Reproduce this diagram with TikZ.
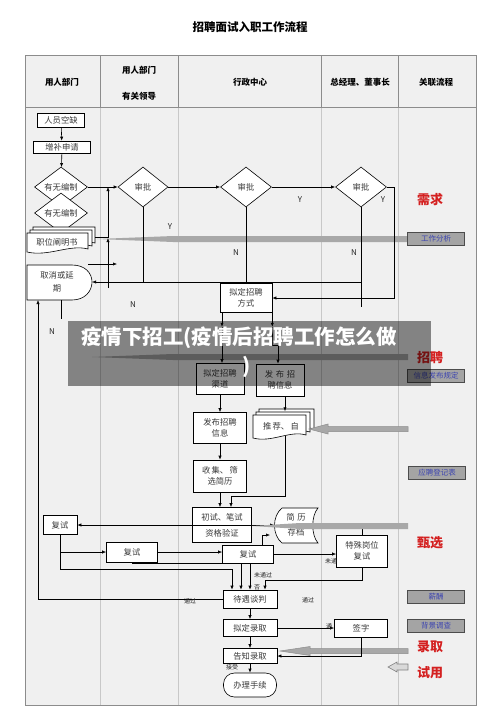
\documentclass[tikz,border=0pt]{standalone}
\usepackage{fontspec}
\setmainfont{Noto Sans CJK SC}
\usetikzlibrary{arrows.meta,calc,shapes.geometric}
\definecolor{bg}{HTML}{F0F0F0}
\definecolor{hdrline}{HTML}{8C8C8C}
\definecolor{laneline}{HTML}{C8C8C8}
\definecolor{txt}{HTML}{3A3A3A}
\definecolor{wedgec}{HTML}{A8A8A8}
\definecolor{refbox}{HTML}{A4A4A4}
\definecolor{reftxt}{HTML}{3C44B0}
\definecolor{redlab}{HTML}{D42020}
\newcommand\docsheet[4]{\draw[sheet] (#1,#2) -- (#3,#2) -- (#3,#4-3) .. controls ({#3-0.3*(#3-#1)},#4-8) and ({#1+0.35*(#3-#1)},#4+5) .. (#1,#4) -- cycle;}
\newcommand\wedgearrow[4]{\fill[wedgec] (#3,#4-3) -- (#2,#4-3) -- (#1,#4) -- (#2,#4+3) -- (#3,#4+3) -- cycle;}
\newcommand\blockarrow[6]{\filldraw[blockst] (#3,#4-#5) -- (#2,#4-#5) -- (#2,#4-#6) -- (#1,#4) -- (#2,#4+#6) -- (#2,#4+#5) -- (#3,#4+#5) -- cycle;}
\begin{document}
\begin{tikzpicture}[x=1pt,y=-1pt,
 arr/.style={-{Latex[length=4pt,width=3.2pt]}, line width=0.6pt},
 conn/.style={line width=0.6pt},
 box/.style={draw, line width=0.6pt, fill=white, text=txt, font=\fontsize{8.3}{11}\selectfont, align=center, inner sep=0pt},
 dia/.style={diamond, aspect=1.3, draw, line width=0.6pt, fill=white, text=txt, font=\fontsize{8.3}{10}\selectfont, inner sep=0pt},
 lbl/.style={font=\fontsize{8}{10}\selectfont, text=black!85, inner sep=0pt},
 small/.style={font=\fontsize{6}{7}\selectfont, text=black!85, inner sep=0pt},
 hdr/.style={font=\bfseries\fontsize{8.5}{10}\selectfont, inner sep=0pt},
 refb/.style={draw=black!70, line width=0.6pt, fill=refbox, text=reftxt, font=\fontsize{7.5}{9}\selectfont, inner sep=0pt, minimum width=57pt, minimum height=13pt},
 redl/.style={text=redlab, font=\bfseries\fontsize{13}{15}\selectfont, inner sep=0pt},
 sheet/.style={draw, line width=0.6pt, fill=white},
 blockst/.style={fill=wedgec, draw=black!45, line width=0.5pt},
]
\useasboundingbox (0,0) rectangle (500,707);
\fill[white] (0,0) rectangle (500,707);
\node[font=\bfseries\fontsize{11.5}{13}\selectfont, inner sep=0pt] (title) at (250,27) {招聘面试入职工作流程};
% table
\fill[bg] (25,55) rectangle (476,705);
\foreach \xx in {100,178,321,398} {
  \draw[hdrline, line width=0.7pt] (\xx,55) -- (\xx,107);
  \draw[laneline, line width=0.8pt] (\xx,107) -- (\xx,705);
}
\draw[hdrline, line width=0.7pt] (25,107) -- (476,107);
\draw[hdrline, line width=0.8pt] (25,55) rectangle (476,705);
\node[hdr] (h1) at (62,82) {用人部门};
\node[hdr] (h2a) at (139,70) {用人部门};
\node[hdr] (h2b) at (139,96) {有关领导};
\node[hdr] (h3) at (250,82) {行政中心};
\node[hdr] (h4) at (360,82) {总经理、董事长};
\node[hdr] (h5) at (436,82) {关联流程};

% gray wedge arrows (behind)
\wedgearrow{97}{173}{408}{239}
\wedgearrow{92}{173}{408}{357}

% column 1 nodes
\node[box, minimum width=47pt, minimum height=14pt] (n1) at (61,120) {人员空缺};
\node[box, minimum width=57pt, minimum height=12pt] (n2) at (62,147) {增补申请};
\node[dia, minimum width=53pt, minimum height=40pt] (d1) at (61,187) {有无编制};
\node[dia, minimum width=53pt, minimum height=40pt] (d1b) at (61,213) {有无编制};
\docsheet{33}{227}{95}{246}
\docsheet{30}{230}{92}{249}
\docsheet{27}{233}{88}{252}
\node[lbl, text=txt, font=\fontsize{8.3}{10}\selectfont] (zw) at (57,242) {职位阐明书};
\coordinate (zwr) at (95,237);
\draw[sheet] (27,265) -- (72,265) .. controls (85,265) and (92,273) .. (92,282) .. controls (92,291) and (85,300) .. (72,300) -- (27,300) -- cycle;
\node[lbl, text=txt, align=center, font=\fontsize{8.3}{13}\selectfont] (qx) at (57,282) {取消或延\\期};
\coordinate (qxr) at (92,282);
\coordinate (qxb) at (38,300);

% diamonds
\node[dia, minimum width=50pt, minimum height=40pt] (d2) at (143,187) {审批};
\node[dia, minimum width=51pt, minimum height=40pt] (d3) at (246,187) {审批};
\node[dia, minimum width=51pt, minimum height=40pt] (d4) at (361,187) {审批};

% column 3 boxes
\node[box, minimum width=52pt, minimum height=29pt] (fs) at (246,298) {拟定招聘\\方式};
\node[box, minimum width=48pt, minimum height=31pt] (qd) at (220,379) {拟定招聘\\渠道};
\node[box, minimum width=48pt, minimum height=32pt] (fb) at (280,380) {发\,\,布\,\,招\\聘信息};
\node[box, minimum width=53pt, minimum height=31pt] (fp) at (220,428) {发布招聘\\信息};
\docsheet{259}{409}{314}{432}
\docsheet{256}{412}{310}{435}
\docsheet{253}{415}{306}{438}
\node[lbl, text=txt, font=\fontsize{8.3}{10}\selectfont] (tj) at (281,426) {推\,荐、\,自};
\coordinate (tjb) at (285,436);
\node[box, minimum width=53pt, minimum height=32pt] (sj) at (220,476) {收\,集、\,筛\\选简历};
\node[box, minimum width=59pt, minimum height=35pt] (cs) at (222,525) {初试、笔试\\[5pt]资格验证};
\draw[conn] (cs.west) -- (cs.east);
\draw[sheet] (282,508) -- (318,508) .. controls (311,516) and (311,535) .. (318,543) -- (282,543) .. controls (272,535) and (272,516) .. (282,508) -- cycle;
\node[lbl, text=txt, align=center, font=\fontsize{8.3}{15}\selectfont] (jc) at (296,525) {简\,\,历\\存档};
\coordinate (jcl) at (274,525);
\coordinate (jcr) at (312,525);
\node[box, minimum width=34pt, minimum height=19pt] (f1) at (60,525) {复试};
\node[box, minimum width=51pt, minimum height=20pt] (f2) at (132,552) {复试};
\node[box, minimum width=51pt, minimum height=18pt] (f3) at (248,554) {复试};
\node[box, minimum width=51pt, minimum height=32pt] (sp) at (362,551) {特殊岗位\\复试};
\node[box, minimum width=54pt, minimum height=18pt] (dy) at (250,599) {待遇谈判};
\node[box, minimum width=54pt, minimum height=17pt] (nl) at (250,628) {拟定录取};
\node[box, minimum width=53pt, minimum height=18pt] (qz) at (361,628) {签字};
\node[box, minimum width=54pt, minimum height=15pt] (gz) at (250,656) {告知录取};
\node[box, minimum width=53pt, minimum height=24pt, rounded corners=11pt] (bl) at (250,685) {办理手续};

% right column
\node[redl] (rq) at (430,200) {需求};
\node[refb] (gzfx) at (436,239) {工作分析};
\node[redl] (zp) at (430,358) {招聘};
\node[refb] (xxfb) at (436,376) {信息发布规定};
\node[refb] (ypdj) at (437,473) {应聘登记表};
\node[redl] (zx) at (430,543) {甄选};
\node[refb] (xc) at (436,597) {薪酬};
\node[refb] (bjdc) at (436,626) {背景调查};
\node[redl] (lq) at (430,647) {录取};
\node[redl] (sy) at (430,673) {试用};

% connectors top part
\draw[arr] (n1) -- (n2);
\draw[arr] (n2) -- (d1);
\draw[arr] (d1.east) -- (d2.west);
\coordinate (j1) at (108,187);
\draw[arr] (zwr) -| (j1);
\coordinate (j2) at (108,288);
\coordinate (j3) at (108,238);
\draw[arr] (j2) -- (j3);
\draw[arr] (d2.east) -- (d3.west);
\draw[arr] (d3.east) -- (d4.west);
\draw[conn] (d2.south) -- (d2.south |- qxr);
\draw[conn] (d3.south) -- (d3.south |- qxr);
\draw[conn] (d4.south) -- ++(0,100);
\draw[arr] (d4.south |- qxr) -- (qxr);
\draw[arr] (d4.east) -- ++(7,0) |- (fs.east);
\coordinate (s1) at (88,264);
\coordinate (s2) at (117,264);
\draw[arr] (s1) -- (s2);
\draw[conn] (61,300) -- (61,319);
\draw[arr] (dy.west) -| (qxb);

% middle
\draw[arr] (fs.south -| qd.north) ++(2,0) -- ++(0,14);
\draw[arr] ($(fs.south -| qd.north)+(2,14)$) -- ($(qd.north)+(2,0)$);
\draw[arr] (fs.south east) -- ++(0,14);
\draw[arr] ($(fs.south east)+(0,14)$) -- ++(0,18) -| ($(fb.north)+(-2,0)$);
\draw[arr] (qd) -- (fp);
\draw[arr] ($(fb.south)+(5,0)$) -- ++(0,15);
\draw[arr] (fp) -- (sj);
\draw[arr] (sj.south) -- (sj.south |- cs.north);
\draw[arr] (tjb) |- ($(cs.north)+(9,-11)$) -- ($(cs.north)+(9,0)$);
\draw[arr] (cs.west) -- (f1.east);
\draw[arr] (cs.east) -- (jcl);
\draw[arr] ($(f3.north)+(14,0)$) |- ($(jcl)+(-4,10)$);
\draw[arr] (sp.north) |- (jcr);
\draw[arr] (f1.south) |- (f2.west);
\draw[arr] (f1.south) |- ($(dy.north)+(-18,-20)$) -- ($(dy.north)+(-18,0)$);
\draw[arr] (f2.east) -- (f2.east -| f3.west);
\draw[arr] (f2.south) |- ($(dy.north)+(-9,-26)$) -- ($(dy.north)+(-9,0)$);
\draw[arr] (f3.south -| dy.north) -- (dy.north);
\draw[arr] (f3.east) -- (f3.east -| sp.west);
\draw[arr] (sp.south) |- ($(dy.north)+(15,-9)$) -- ($(dy.north)+(15,0)$);
\draw[arr] (dy) -- (nl);
\draw[arr] (nl.east) -- (qz.west);
\draw[arr] (nl) -- (gz);
\draw[arr] (gz) -- (bl);

% gray arrows on top
\wedgearrow{252}{300}{408}{526}
\blockarrow{309}{328}{408}{429}{2.5}{5}
\blockarrow{280}{310}{408}{651}{2.5}{4.5}
\begin{scope}[blockst/.style={fill=black!15, draw=black!50, line width=0.6pt}]
\blockarrow{388}{397}{408}{667}{3}{5}
\end{scope}
\draw[arr] (qz.south) |- (gz.east);

% labels
\node[lbl] (y1) at (170,227) {Y};
\node[lbl] (y2) at (300,200) {Y};
\node[lbl] (y3) at (383,200) {Y};
\node[lbl] (nn1) at (236,253) {N};
\node[lbl] (nn2) at (354,253) {N};
\node[lbl] (nn3) at (133,305) {N};
\node[lbl] (nn4) at (52,332) {N};
\node[small] (t1) at (190,601) {通过};
\node[small] (t2) at (308,600) {通过};
\node[small] (t3) at (263,575) {未通过};
\node[small] (t4) at (257,587) {否};
\node[small] (t5) at (331,561) {未通};
\node[small] (t6) at (329,626) {通};
\node[small] (t7) at (232,667) {接受};

% watermark banner
\fill[black, opacity=0.45] (68,321) rectangle (431,386);
\node[text=white, font=\bfseries\fontsize{20.5}{24}\selectfont, inner sep=0pt] (wm1) at (239,338) {疫情下招工(疫情后招聘工作怎么做};
\node[text=white, font=\bfseries\fontsize{20.5}{24}\selectfont, inner sep=0pt] (wm2) at (247,367) {)};
\end{tikzpicture}
\end{document}
